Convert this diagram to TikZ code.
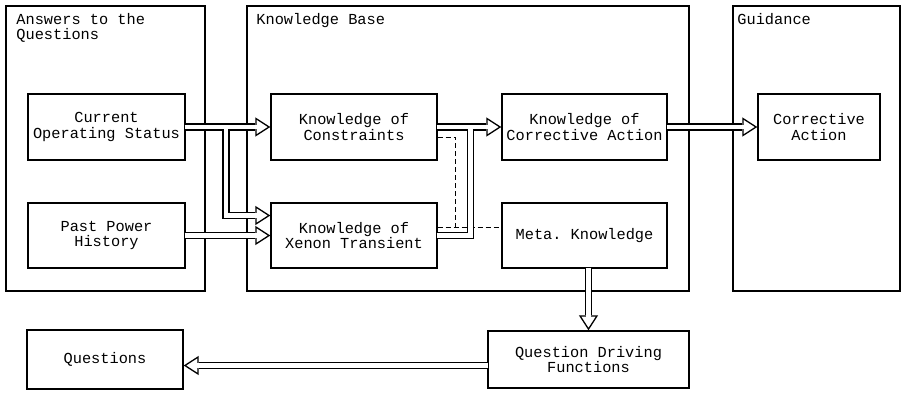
\documentclass[tikz,border=0pt]{standalone}
\usepackage{fontspec}
\setmainfont{Liberation Mono}
\usetikzlibrary{arrows.meta, calc}
\frenchspacing

\begin{document}
\begin{tikzpicture}[x = 1pt, y = -1pt]
\tikzstyle{Group}=[draw, line width = 1.5pt, inner sep = 0pt]
\tikzstyle{Box}=[draw, line width = 1.4pt, inner sep = 0pt, align = center,
font = \fontsize{15.3}{15.5}\selectfont]
\tikzstyle{Title}=[inner sep = 0pt, anchor = north west, align = left,
font = \fontsize{15.3}{14.5}\selectfont]
\tikzstyle{Link}=[line width = 1pt, dash pattern = on 5pt off 3pt]
\tikzstyle{Pipe}=[line width = 7.5pt]
\tikzstyle{PipeHead}=[Pipe, shorten >= 15pt]
\tikzstyle{Tip}=[line width = 1.3pt, -{Triangle[length = 15pt, width = 19pt, fill = white]}]
\tikzstyle{Core}=[line width = 4.5pt, white, shorten <= -1pt]
\tikzstyle{CoreHead}=[Core, shorten >= 13.5pt]
\useasboundingbox (0,0) rectangle (903,400);
\node[Group, minimum width = 199pt, minimum height = 285pt] (ans) at (105.5,148.5) {};
\node[Group, minimum width = 442pt, minimum height = 285pt] (kb) at (468,148.5) {};
\node[Group, minimum width = 167pt, minimum height = 285pt] (gd) at (816.5,148.5) {};
\node[Title] (anst) at ($(ans.north west)+(11,8)$) {Answers to the\\Questions};
\node[Title] (kbt) at ($(kb.north west)+(10,8)$) {Knowledge Base};
\node[Title] (gdt) at ($(gd.north west)+(5,8)$) {Guidance};
\node[Box, minimum width = 157pt, minimum height = 66pt] (cos) at (106.5,127) {Current\\Operating Status};
\node[Box, minimum width = 157pt, minimum height = 65pt] (pph) at (106.5,235.5) {Past Power\\History};
\node[Box, minimum width = 166pt, minimum height = 66pt] (kc) at (354,127) {Knowledge of\\Constraints};
\node[Box, minimum width = 166pt, minimum height = 65pt] (kx) at (354,235.5) {Knowledge of\\Xenon Transient};
\node[Box, minimum width = 165pt, minimum height = 66pt] (kca) at (584.5,127) {Knowledge of\\Corrective Action};
\node[Box, minimum width = 165pt, minimum height = 65pt] (meta) at (584.5,235.5) {Meta. Knowledge};
\node[Box, minimum width = 122pt, minimum height = 66pt] (ca) at (819,127) {Corrective\\Action};
\node[Box, minimum width = 201pt, minimum height = 57pt] (qdf) at (588.5,359.5) {Question Driving\\Functions};
\node[Box, minimum width = 156pt, minimum height = 59pt] (q) at (105,359.5) {Questions};
\coordinate (cosbr) at ($(cos.east)+(40.5,0)$);
\coordinate (kxin) at ($(kx.west)+(0,-20)$);
\coordinate (kcbr) at ($(kc.east)+(33,0)$);
\coordinate (kcd) at ($(kc.east)+(0,10)$);
\coordinate (kxd) at ($(kx.east)+(0,-8.5)$);
\coordinate (dcol) at ($(kxd)+(18,0)$);
\coordinate (metad) at ($(meta.west)+(0,-8.5)$);
\coordinate (qin) at ($(q.east)+(0,6)$);
\draw[Link] (kxd) -- (metad);
\draw[Link] (kcd) -| (dcol);
\draw[PipeHead] (cos.east) -- (kc.west);
\draw[PipeHead] (cosbr) |- (kxin);
\draw[PipeHead] (pph.east) -- (kx.west);
\draw[PipeHead] (kc.east) -- (kca.west);
\draw[Pipe] (kx.east) -| (kcbr);
\draw[PipeHead] (kca.east) -- (ca.west);
\draw[PipeHead] (meta.south -| qdf.north) -- (qdf.north);
\draw[PipeHead] (qdf.west |- qin) -- (qin);
\draw[Tip] (cos.east) -- (kc.west);
\draw[Tip] (cosbr) |- (kxin);
\draw[Tip] (pph.east) -- (kx.west);
\draw[Tip] (kc.east) -- (kca.west);
\draw[Tip] (kca.east) -- (ca.west);
\draw[Tip] (meta.south -| qdf.north) -- (qdf.north);
\draw[Tip] (qdf.west |- qin) -- (qin);
\draw[CoreHead] (cos.east) -- (kc.west);
\draw[CoreHead] (cosbr) |- (kxin);
\draw[CoreHead] (pph.east) -- (kx.west);
\draw[CoreHead] (kc.east) -- (kca.west);
\draw[Core] (kx.east) -| (kcbr);
\draw[CoreHead] (kca.east) -- (ca.west);
\draw[CoreHead] (meta.south -| qdf.north) -- (qdf.north);
\draw[CoreHead] (qdf.west |- qin) -- (qin);
\end{tikzpicture}
\end{document}
